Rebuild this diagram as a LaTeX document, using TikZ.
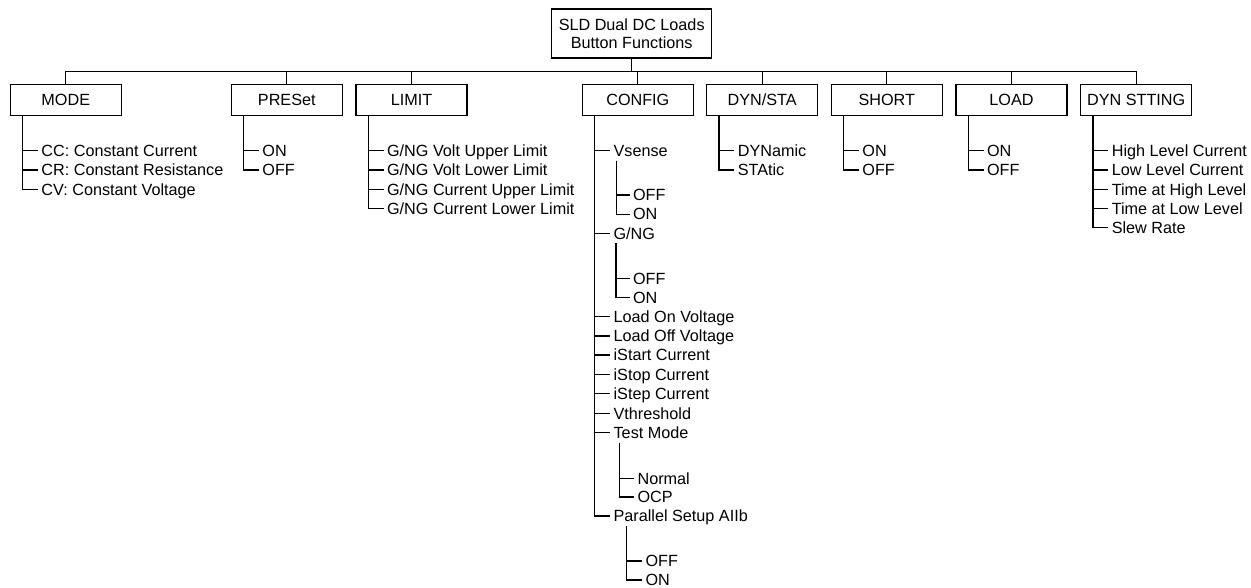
\documentclass[tikz,border=0pt]{standalone}
\usepackage{fontspec}
\setmainfont{Liberation Sans}
\newcommand{\fs}{\fontsize{16.2}{18.5}\selectfont}
\begin{document}
\begin{tikzpicture}[x=1pt,y=-1pt,line width=1.25pt,
  topbox/.style={draw,minimum width=160pt,minimum height=49pt,inner sep=0pt,align=center,font=\fs},
  box/.style={draw,minimum width=111pt,minimum height=31pt,inner sep=0pt,text height=11.5pt,text depth=0pt,font=\fs},
  item/.style={anchor=west,inner xsep=3pt,inner ysep=3.5pt,text height=11.5pt,text depth=0pt,font=\fs}]
\useasboundingbox (0,0) rectangle (1251,587);
% root
\node[topbox] (top) at (631.7,33.5) {SLD Dual DC Loads\\Button Functions};
\coordinate (bus) at (631.7,71.3);
% level 1 boxes
\node[box] (mode)   at (65.8,99.7)   {MODE};
\node[box] (preset) at (286.8,99.7)  {PRESet};
\node[box] (limit)  at (411.5,99.7)  {LIMIT};
\node[box] (config) at (637.8,99.7)  {CONFIG};
\node[box] (dynsta) at (762.2,99.7)  {DYN/STA};
\node[box] (short)  at (886.8,99.7)  {SHORT};
\node[box] (load)   at (1011.5,99.7) {LOAD};
\node[box] (dynst)  at (1136.2,99.7) {DYN STTING};
\draw (top.south) -- (bus);
\draw (bus -| mode.north) -- (bus -| dynst.north);
\foreach \b in {mode,preset,limit,config,dynsta,short,load,dynst}
  \draw (bus -| \b.north) -- (\b.north);
% MODE
\node[item] (cc) at (37.8,150.7) {CC: Constant Current};
\node[item] (cr) at (37.8,170.0) {CR: Constant Resistance};
\node[item] (cv) at (37.8,189.3) {CV: Constant Voltage};
\foreach \i in {cc,cr,cv} \draw ([xshift=13pt]mode.south west) |- (\i.west);
% PRESet
\node[item] (pon)  at (258.8,150.7) {ON};
\node[item] (poff) at (258.8,170.0) {OFF};
\foreach \i in {pon,poff} \draw ([xshift=13pt]preset.south west) |- (\i.west);
% LIMIT
\node[item] (l1) at (383.5,150.7) {G/NG Volt Upper Limit};
\node[item] (l2) at (383.5,170.0) {G/NG Volt Lower Limit};
\node[item] (l3) at (383.5,189.3) {G/NG Current Upper Limit};
\node[item] (l4) at (383.5,208.3) {G/NG Current Lower Limit};
\foreach \i in {l1,l2,l3,l4} \draw ([xshift=13pt]limit.south west) |- (\i.west);
% CONFIG
\node[item] (vs)   at (610,150.7) {Vsense};
\node[item] (vsf)  at (629.5,195.0) {OFF};
\node[item] (vsn)  at (629.5,214.2) {ON};
\node[item] (gng)  at (610,233.3) {G/NG};
\node[item] (gf)   at (629.5,278.3) {OFF};
\node[item] (gn)   at (629.5,297.3) {ON};
\node[item] (lon)  at (610,316.7) {Load On Voltage};
\node[item] (loff) at (610,336.0) {Load Off Voltage};
\node[item] (ist)  at (610,355.0) {iStart Current};
\node[item] (isp)  at (610,374.3) {iStop Current};
\node[item] (ise)  at (610,393.5) {iStep Current};
\node[item] (vth)  at (610,413.3) {Vthreshold};
\node[item] (tm)   at (610,432.7) {Test Mode};
\node[item] (nor)  at (634,478.3) {Normal};
\node[item] (ocp)  at (634,497.0) {OCP};
\node[item] (par)  at (610,516.0) {Parallel Setup AIIb};
\node[item] (paf)  at (642,561.0) {OFF};
\node[item] (pan)  at (642,580.0) {ON};
\foreach \i in {vs,gng,lon,loff,ist,isp,ise,vth,tm,par}
  \draw ([xshift=13pt]config.south west) |- (\i.west);
\foreach \i in {vsf,vsn} \draw ([xshift=6.8pt]vs.south west) |- (\i.west);
\foreach \i in {gf,gn} \draw ([xshift=6pt]gng.south west) |- (\i.west);
\foreach \i in {nor,ocp} \draw ([xshift=9.3pt]tm.south west) |- (\i.west);
\foreach \i in {paf,pan} \draw ([xshift=16.5pt]par.south west) |- (\i.west);
% DYN/STA
\node[item] (dyn) at (734.2,150.7) {DYNamic};
\node[item] (sta) at (734.2,170.0) {STAtic};
\foreach \i in {dyn,sta} \draw ([xshift=13pt]dynsta.south west) |- (\i.west);
% SHORT
\node[item] (son)  at (858.8,150.7) {ON};
\node[item] (soff) at (858.8,170.0) {OFF};
\foreach \i in {son,soff} \draw ([xshift=13pt]short.south west) |- (\i.west);
% LOAD
\node[item] (ldon)  at (983.5,150.7) {ON};
\node[item] (ldoff) at (983.5,170.0) {OFF};
\foreach \i in {ldon,ldoff} \draw ([xshift=13pt]load.south west) |- (\i.west);
% DYN STTING
\node[item] (d1) at (1108.2,150.7) {High Level Current};
\node[item] (d2) at (1108.2,170.0) {Low Level Current};
\node[item] (d3) at (1108.2,189.3) {Time at High Level};
\node[item] (d4) at (1108.2,208.3) {Time at Low Level};
\node[item] (d5) at (1108.2,227.7) {Slew Rate};
\foreach \i in {d1,d2,d3,d4,d5} \draw ([xshift=13pt]dynst.south west) |- (\i.west);
\end{tikzpicture}
\end{document}
